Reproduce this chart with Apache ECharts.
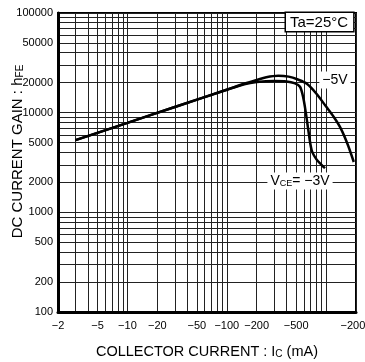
<!DOCTYPE html>
<html><head><meta charset="utf-8">
<script src="https://cdn.jsdelivr.net/npm/echarts@6/dist/echarts.min.js"></script>
<style>html,body{margin:0;padding:0;background:#fff}#c{width:365px;height:362px}</style>
</head><body><div id="c"></div>
<script>
// Collector current magnitudes (mA); axis shows them as negative values
const xLabelValues = [2, 5, 10, 20, 50, 100, 200, 500, 1000, 2000];
const xGridValues = [2,3,4,5,6,7,8,9,10,20,30,40,50,60,70,80,90,100,200,300,400,500,600,700,800,900,1000,2000];
const yLabelValues = [100, 200, 500, 1000, 2000, 5000, 10000, 20000, 50000, 100000];
const yGridValues = [100,200,300,400,500,600,700,800,900,1000,2000,3000,4000,5000,6000,7000,8000,9000,10000,20000,30000,40000,50000,60000,70000,80000,90000,100000];

// VCE = -5V
const ic5  = [3, 10, 30, 100, 150, 200, 250, 330, 420, 520, 640, 800, 1000, 1200, 1400, 1650, 1900];
const hfe5 = [5300, 7900, 11400, 17000, 19500, 21300, 22700, 23500, 23000, 21500, 19500, 15500, 11500, 9000, 7000, 4800, 3200];
// VCE = -3V
const ic3  = [3, 10, 30, 100, 150, 200, 300, 400, 480, 546, 590, 625, 662, 716, 800, 900, 975];
const hfe3 = [5300, 7900, 11400, 17000, 19300, 20300, 20800, 20600, 19800, 18200, 14000, 10000, 6700, 4200, 3400, 3000, 2770];

const zipPts = (xs, ys) => xs.map((x, i) => [x, ys[i]]);
const NARROW = '"Liberation Sans Narrow", "Arial Narrow", "Liberation Sans", sans-serif';
const SANS = '"Liberation Sans", Arial, sans-serif';

const chart = echarts.init(document.getElementById('c'));
chart.setOption({
  animation: false,
  backgroundColor: '#fff',
  grid: { left: 58, right: 9, top: 13, bottom: 50, show: true, borderColor: '#000', borderWidth: 2, containLabel: false, outerBoundsMode: 'none' },
  xAxis: {
    type: 'log', logBase: 10, min: 2, max: 2000,
    axisLine: { show: true, onZero: false, lineStyle: { color: '#000', width: 3 } },
    axisTick: { show: false, customValues: xGridValues },
    axisLabel: { customValues: xLabelValues, formatter: v => '\u2212' + v, fontFamily: NARROW, fontSize: 11, color: '#000', margin: 8, showMinLabel: true, showMaxLabel: true, hideOverlap: false },
    splitLine: { show: true, lineStyle: { color: '#222', width: 1 } },
    name: '{a|COLLECTOR CURRENT : I}{b|C}{a| (mA)}',
    nameLocation: 'middle', nameGap: 32, nameMoveOverlap: false,
    nameTextStyle: { rich: { a: { fontFamily: SANS, fontSize: 14.5, color: '#000' }, b: { fontFamily: SANS, fontSize: 10, color: '#000', verticalAlign: 'bottom', padding: [4, 0, 0, 0] } } }
  },
  yAxis: {
    type: 'log', logBase: 10, min: 100, max: 100000,
    axisLine: { show: true, onZero: false, lineStyle: { color: '#000', width: 3 } },
    axisTick: { show: false, customValues: yGridValues },
    axisLabel: { customValues: yLabelValues, formatter: v => String(v), fontFamily: NARROW, fontSize: 11, color: '#000', margin: 5, showMinLabel: true, showMaxLabel: true },
    splitLine: { show: true, lineStyle: { color: '#222', width: 1 } },
    name: '{a|DC CURRENT GAIN : h}{b|FE}',
    nameLocation: 'middle', nameGap: 33, nameRotate: 90, nameMoveOverlap: false,
    nameTextStyle: { padding: [0, 0, 0, 22], rich: { a: { fontFamily: SANS, fontSize: 15, color: '#000' }, b: { fontFamily: SANS, fontSize: 10, color: '#000', verticalAlign: 'bottom', padding: [4, 0, 0, 0] } } }
  },
  series: [
    { type: 'line', name: '-5V', data: zipPts(ic5, hfe5), smooth: 0.3, showSymbol: false, lineStyle: { color: '#000', width: 2.5 }, z: 5 },
    { type: 'line', name: '-3V', data: zipPts(ic3, hfe3), smooth: 0.3, showSymbol: false, lineStyle: { color: '#000', width: 2.5 }, z: 5 }
  ],
  graphic: [
    { type: 'text', x: 286, y: 13, z: 100, style: { text: 'Ta=25\u00b0C', font: '15px ' + SANS, fill: '#000', backgroundColor: '#fff', borderColor: '#000', borderWidth: 1.5, padding: [2, 5, 1, 4] } },
    { type: 'text', x: 335, y: 80, z: 100, style: { text: '\u22125V', font: '14px ' + SANS, fill: '#000', align: 'center', verticalAlign: 'middle', backgroundColor: '#fff', padding: [2, 3, 1, 3] } },
    { type: 'text', x: 300, y: 181, z: 100, style: { text: '{a|V}{b|CE}{a|= \u22123V}', align: 'center', verticalAlign: 'middle', backgroundColor: '#fff', padding: [2, 3, 1, 3],
      rich: { a: { font: '14px ' + SANS, fill: '#000' }, b: { font: '9px ' + SANS, fill: '#000', verticalAlign: 'bottom', padding: [4, 0, 0, 0] } } } }
  ]
});
</script></body></html>
